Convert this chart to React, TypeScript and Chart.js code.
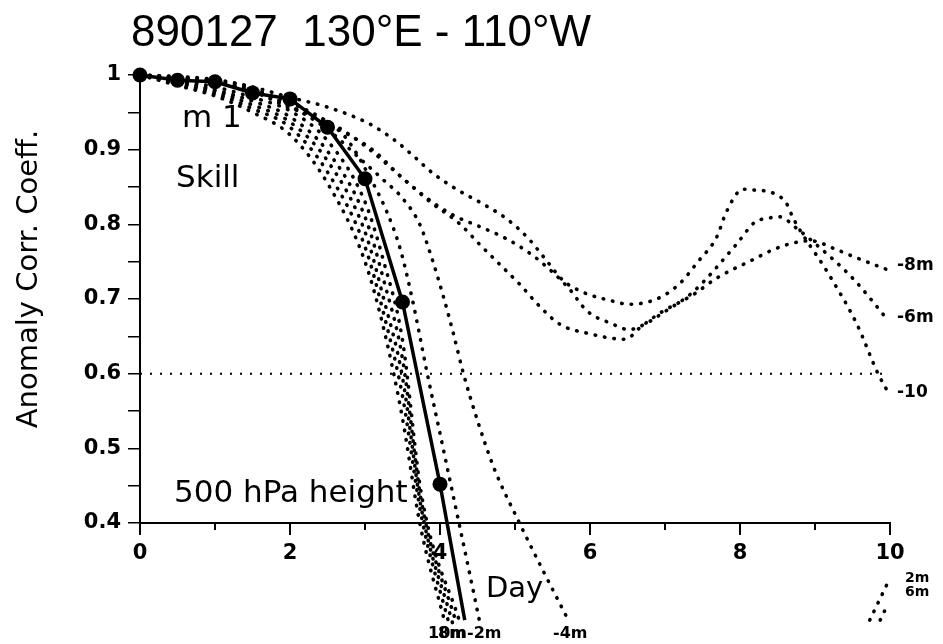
import React, { useEffect, useRef } from "react";
import { Chart, registerables } from "chart.js";

Chart.register(...registerables);

// ---- Data ----
const TITLE = "890127  130°E - 110°W";
const Y_TITLE = "Anomaly Corr. Coeff.";
const X_TICKS_LABELED = [0, 2, 4, 6, 8, 10];

// solid skill curve (m 1)
const solidDays = [0, 0.5, 1, 1.5, 2, 2.5, 3, 3.5, 4, 4.33];
const solidVals = [1.0, 0.993, 0.991, 0.976, 0.968, 0.93, 0.861, 0.696, 0.452, 0.27];

// fast-dropping cluster of members (left of the solid line)
const clusterDays1 = [0, 0.5, 1, 1.5, 2, 2.5, 3, 3.25, 3.5, 3.75, 4.27];
const cluster1 = [1, 0.993, 0.984, 0.97, 0.952, 0.912, 0.83, 0.75, 0.645, 0.44, 0.265];
const clusterDays2 = [0, 0.5, 1, 1.5, 2, 2.5, 3, 3.25, 3.5, 3.75, 4.22];
const cluster2 = [1, 0.991, 0.98, 0.965, 0.944, 0.898, 0.81, 0.725, 0.62, 0.43, 0.265];
const clusterDays3 = [0, 0.5, 1, 1.5, 2, 2.5, 3, 3.25, 3.5, 3.75, 4.17];
const cluster3 = [1, 0.99, 0.978, 0.96, 0.937, 0.885, 0.79, 0.7, 0.595, 0.42, 0.265];
const clusterDays4 = [0, 0.5, 1, 1.5, 2, 2.5, 3, 3.25, 3.5, 3.75, 4.12];
const cluster4 = [1, 0.988, 0.975, 0.955, 0.93, 0.87, 0.77, 0.68, 0.57, 0.41, 0.265];
const clusterDays5 = [0, 0.5, 1, 1.5, 2, 2.5, 3, 3.25, 3.5, 3.73, 4.07];
const cluster5 = [1, 0.986, 0.972, 0.95, 0.92, 0.855, 0.75, 0.66, 0.54, 0.4, 0.265];

// -2m member
const m2Days = [0, 0.5, 1, 1.5, 2, 2.5, 2.76, 3.07, 3.29, 3.47, 3.63, 3.83, 4.0, 4.2, 4.4, 4.53];
const m2Vals = [1, 0.996, 0.99, 0.979, 0.963, 0.937, 0.914, 0.862, 0.817, 0.767, 0.7, 0.6, 0.52, 0.425, 0.33, 0.267];

// -4m member
const m4Days = [0, 0.5, 1, 1.5, 2, 2.27, 2.53, 2.89, 3.24, 3.5, 3.73, 3.89, 4.04, 4.17, 4.31, 4.51, 4.73, 5.04, 5.37, 5.71];
const m4Vals = [1, 0.997, 0.992, 0.982, 0.958, 0.943, 0.925, 0.892, 0.86, 0.835, 0.8, 0.755, 0.705, 0.657, 0.601, 0.534, 0.471, 0.404, 0.337, 0.27];

// -10 member
const m10Days = [0, 0.5, 1, 1.5, 2, 2.5, 3.07, 3.43, 3.63, 3.91, 4.22, 4.56, 4.88, 5.17, 5.4, 5.64, 5.91, 6.27, 6.52, 6.89, 7.19, 7.44, 7.69, 7.82, 8.04, 8.18, 8.44, 8.62, 8.71, 9.16, 9.56, 9.84, 9.97];
const m10Vals = [1, 0.998, 0.994, 0.984, 0.97, 0.957, 0.934, 0.91, 0.893, 0.868, 0.847, 0.828, 0.808, 0.782, 0.754, 0.725, 0.709, 0.698, 0.693, 0.7, 0.72, 0.75, 0.783, 0.817, 0.847, 0.846, 0.842, 0.828, 0.808, 0.737, 0.666, 0.6, 0.576];

// -6m member
const m6Days = [0, 0.5, 1, 1.5, 2, 2.63, 3.1, 3.5, 3.87, 4.18, 4.53, 4.88, 5.2, 5.49, 5.72, 5.96, 6.29, 6.52, 6.76, 6.98, 7.38, 7.95, 8.2, 8.36, 8.53, 8.75, 8.97, 9.51, 9.97];
const m6Vals = [1, 0.997, 0.991, 0.979, 0.958, 0.928, 0.9, 0.862, 0.832, 0.812, 0.797, 0.781, 0.761, 0.737, 0.714, 0.684, 0.667, 0.659, 0.668, 0.682, 0.71, 0.773, 0.803, 0.808, 0.81, 0.795, 0.777, 0.727, 0.672];

// -8m member
const m8Days = [0, 0.5, 1, 1.5, 2, 2.5, 3, 3.5, 3.87, 4.27, 4.53, 4.8, 5.07, 5.33, 5.6, 5.97, 6.47, 6.67, 6.93, 7.38, 7.69, 8.18, 8.44, 8.71, 8.94, 9.29, 9.51, 9.97];
const m8Vals = [1, 0.996, 0.99, 0.978, 0.956, 0.938, 0.905, 0.862, 0.83, 0.8, 0.773, 0.746, 0.719, 0.69, 0.666, 0.654, 0.646, 0.662, 0.681, 0.706, 0.728, 0.753, 0.766, 0.775, 0.778, 0.766, 0.757, 0.739];

// short re-entering segments at bottom right (2m, 6m)
const tailADays = [9.73, 9.85, 9.97];
const tailAVals = [0.27, 0.295, 0.32];
const tailBDays = [9.87, 9.95];
const tailBVals = [0.27, 0.287];

// reference line
const refDays = [0, 10];
const refVals = [0.6, 0.6];

// ---- helpers ----
const pts = (xs: number[], ys: number[]) => xs.map((x, i) => ({ x, y: ys[i] }));

const dotted = (xs: number[], ys: number[]) => ({
  data: pts(xs, ys),
  borderColor: "#000",
  borderWidth: 3.6,
  borderDash: [0.5, 9],
  borderCapStyle: "round" as const,
  pointRadius: 0,
  cubicInterpolationMode: "monotone" as const,
  clip: false as any,
  fill: false,
});

const textPlugin = {
  id: "annotations",
  afterDraw(chart: any) {
    const ctx = chart.ctx as CanvasRenderingContext2D;
    const xs = chart.scales.x;
    const ys = chart.scales.y;
    ctx.save();
    ctx.fillStyle = "#000";
    ctx.strokeStyle = "#000";
    // minor x ticks
    ctx.lineWidth = 2;
    [1, 3, 5, 7, 9].forEach((d) => {
      const px = Math.round(xs.getPixelForValue(d));
      ctx.beginPath();
      ctx.moveTo(px, ys.bottom);
      ctx.lineTo(px, ys.bottom + 7);
      ctx.stroke();
    });
    // title
    ctx.font = '44px "Liberation Sans"';
    ctx.textAlign = "left";
    ctx.textBaseline = "alphabetic";
    ctx.fillText(TITLE, 131, 46);
    // y title
    ctx.save();
    ctx.translate(37, 279);
    ctx.rotate(-Math.PI / 2);
    ctx.font = '29px "DejaVu Sans"';
    ctx.textAlign = "center";
    ctx.fillText(Y_TITLE, 0, 0);
    ctx.restore();
    // in-plot labels
    ctx.font = '31px "DejaVu Sans"';
    ctx.fillText("m 1", 182, 127);
    ctx.fillText("Skill", 176, 187);
    ctx.fillText("500 hPa height", 174, 502);
    ctx.font = '29px "DejaVu Sans"';
    ctx.fillText("Day", 486, 597);
    // curve end labels
    ctx.font = 'bold 17px "DejaVu Sans"';
    ctx.fillText("-8m", 897, 270);
    ctx.fillText("-6m", 897, 322);
    ctx.fillText("-10", 897, 397);
    ctx.font = 'bold 16px "DejaVu Sans"';
    ctx.fillText("10m", 428, 638);
    ctx.fillText("8m", 438, 638);
    ctx.fillText("-2m", 467, 638);
    ctx.fillText("-4m", 553, 638);
    ctx.font = 'bold 14px "DejaVu Sans"';
    ctx.fillText("2m", 905, 582);
    ctx.fillText("6m", 905, 596);
    ctx.restore();
  },
};

export default function App() {
  const ref = useRef<HTMLCanvasElement>(null);
  useEffect(() => {
    if (!ref.current) return;
    const tickFont = { family: "DejaVu Sans", size: 21, weight: "bold" as const };
    const chart = new Chart(ref.current, {
      type: "line",
      data: {
        datasets: [
          {
            data: pts(solidDays, solidVals),
            borderColor: "#000",
            borderWidth: 3.5,
            pointRadius: solidDays.map((_, i) => (i < 9 ? 7.5 : 0)),
            pointBackgroundColor: "#000",
            pointBorderColor: "#000",
            pointBorderWidth: 0,
            tension: 0,
            clip: false as any,
            fill: false,
          },
          dotted(m2Days, m2Vals),
          dotted(m4Days, m4Vals),
          dotted(m6Days, m6Vals),
          dotted(m8Days, m8Vals),
          dotted(m10Days, m10Vals),
          dotted(clusterDays1, cluster1),
          dotted(clusterDays2, cluster2),
          dotted(clusterDays3, cluster3),
          dotted(clusterDays4, cluster4),
          dotted(clusterDays5, cluster5),
          dotted(tailADays, tailAVals),
          dotted(tailBDays, tailBVals),
          {
            data: pts(refDays, refVals),
            borderColor: "#000",
            borderWidth: 2,
            borderDash: [2, 8],
            pointRadius: 0,
            clip: false as any,
            fill: false,
          },
        ] as any,
      },
      options: {
        animation: false,
        responsive: false,
        maintainAspectRatio: false,
        layout: { padding: { left: 0, top: 75, right: 53, bottom: 0 } },
        plugins: {
          legend: { display: false },
          tooltip: { enabled: false },
          title: { display: false },
        },
        scales: {
          x: {
            type: "linear",
            min: 0,
            max: 10,
            afterFit: (s: any) => {
              s.height = 121;
            },
            ticks: {
              stepSize: 1,
              autoSkip: false,
              maxRotation: 0,
              padding: 6,
              color: "#000",
              font: tickFont,
              callback: (v: any) => (X_TICKS_LABELED.includes(Number(v)) ? String(v) : ""),
            },
            grid: {
              display: true,
              drawOnChartArea: false,
              drawTicks: true,
              tickLength: 12,
              lineWidth: 2,
              color: (c: any) =>
                c.tick && X_TICKS_LABELED.includes(Math.round(c.tick.value * 1000) / 1000)
                  ? "#000"
                  : "rgba(0,0,0,0)",
            },
            border: { display: true, color: "#000", width: 2 },
          },
          y: {
            type: "linear",
            min: 0.4,
            max: 1,
            afterFit: (s: any) => {
              s.width = 140;
            },
            ticks: {
              stepSize: 0.05,
              autoSkip: false,
              padding: 7,
              color: "#000",
              font: tickFont,
              callback: (v: any) => {
                const r = Math.round(Number(v) * 100);
                if (r % 10 !== 0) return "";
                return r === 100 ? "1" : (r / 100).toFixed(1);
              },
            },
            grid: {
              display: true,
              drawOnChartArea: false,
              drawTicks: true,
              tickLength: 12,
              lineWidth: 1.5,
              color: "#000",
            },
            border: { display: true, color: "#000", width: 2 },
          },
        },
      },
      plugins: [textPlugin],
    });
    return () => chart.destroy();
  }, []);
  return (
    <div style={{ position: "absolute", left: 0, top: 0, width: 943, height: 644, background: "#fff" }}>
      <canvas ref={ref} width={943} height={644} />
    </div>
  );
}
